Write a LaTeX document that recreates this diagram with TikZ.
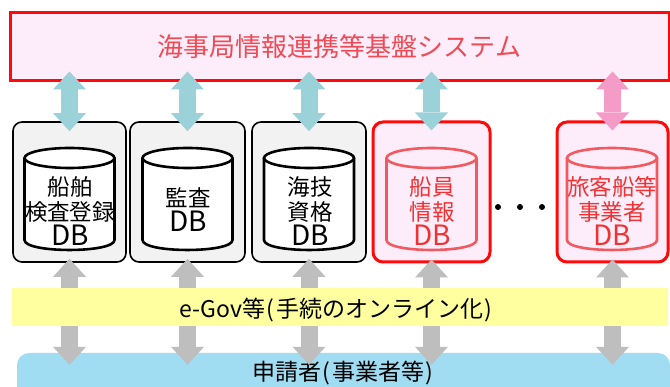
\documentclass[tikz,border=0pt]{standalone}
\usepackage{fontspec}
\setmainfont{Noto Sans CJK JP}
\usetikzlibrary{arrows.meta,calc}
\definecolor{pinkfill}{RGB}{253,236,250}
\definecolor{boxgray}{RGB}{242,242,242}
\definecolor{boxred}{RGB}{255,10,10}
\definecolor{titlered}{RGB}{238,75,85}
\definecolor{cylred}{RGB}{242,90,95}
\definecolor{txtred}{RGB}{240,50,50}
\definecolor{tealarr}{RGB}{155,210,218}
\definecolor{pinkarr}{RGB}{245,155,200}
\definecolor{grayarr}{RGB}{190,190,190}
\definecolor{bandyellow}{RGB}{255,255,160}
\definecolor{bandblue}{RGB}{160,220,242}
\newcommand\dbcyl[3]{%
  \draw[line width=2.6pt, draw=#2, fill=#3] (#1-45,158) -- (#1-45,240)
    .. controls (#1-45,253.3) and (#1+45,253.3) .. (#1+45,240) -- (#1+45,158);
  \draw[line width=2.6pt, draw=#2, fill=#3] (#1,158) ellipse[x radius=45, y radius=10];
}
\newcommand\lpar{\kern1.5pt(\kern1.5pt}
\newcommand\rpar{\kern1.5pt)}
\begin{document}
\begin{tikzpicture}[x=1pt,y=-1pt,
  topbox/.style={draw=boxred, line width=3pt, fill=pinkfill, inner sep=0pt,
    text=titlered, font=\fontsize{26}{30}\selectfont},
  dbbox/.style={draw=black, line width=1.6pt, fill=boxgray, rounded corners=9pt,
    minimum height=140pt, inner sep=0pt},
  redbox/.style={draw=boxred, line width=3pt, fill=pinkfill, rounded corners=10pt,
    minimum height=140pt, inner sep=0pt},
  dbtext/.style={align=center, inner sep=0pt, font=\fontsize{22.5}{25}\selectfont},
  tiparr/.style={line width=17pt, draw=#1,
    arrows={Triangle[width=33pt,length=18pt,line width=0pt]-Triangle[width=33pt,length=18pt,line width=0pt]}},
  band/.style={inner sep=0pt, font=\fontsize{23}{26}\selectfont}
]
\useasboundingbox (0,0) rectangle (670,387);
\clip (0,0) rectangle (670,387);
\fill[white] (0,0) rectangle (670,387);

% top system box
\node[topbox, minimum width=659pt, minimum height=68pt] (top) at (339.5,47) {海事局情報連携等基盤システム};

% applicant band
\node[band, fill=bandblue, rounded corners=12pt, minimum width=653pt, minimum height=50pt,
  text height=0pt, text depth=0pt] (apl) at (343.5,378) {};
\node[band] (apltext) at (343,373) {申請者\lpar 事業者等\rpar};

% DB boxes
\node[dbbox, minimum width=113pt] (b1) at (69.5,192) {};
\node[dbbox, minimum width=115pt] (b2) at (187.5,192) {};
\node[dbbox, minimum width=114pt] (b3) at (309,192) {};
\node[redbox, minimum width=117pt] (b4) at (431.5,192) {};
\node[redbox, minimum width=111pt] (b5) at (612.5,192) {};

% cylinders
\dbcyl{69.5}{black}{white}
\dbcyl{187.5}{black}{white}
\dbcyl{309}{black}{white}
\dbcyl{431.5}{cylred}{pinkfill}
\dbcyl{612}{cylred}{pinkfill}

% DB labels
\node[dbtext] (t1) at (70,211) {船舶\\検査登録\\{\fontsize{28}{25}\selectfont DB}};
\node[dbtext] (t2) at (188,210) {監査\\{\fontsize{28}{25}\selectfont DB}};
\node[dbtext] (t3) at (310,211) {海技\\資格\\{\fontsize{28}{25}\selectfont DB}};
\node[dbtext, text=txtred] (t4) at (432,211) {船員\\情報\\{\fontsize{28}{25}\selectfont DB}};
\node[dbtext, text=txtred] (t5) at (612,211) {旅客船等\\事業者\\{\fontsize{28}{25}\selectfont DB}};

% dots
\fill (498,207) circle[radius=3pt];
\fill (520,207) circle[radius=3pt];
\fill (542,207) circle[radius=3pt];

% top arrows
\draw[tiparr=tealarr] ($(top.south -| b1.north)+(0,-11)$) -- ($(b1.north)+(0,10)$);
\draw[tiparr=tealarr] ($(top.south -| b2.north)+(0,-11)$) -- ($(b2.north)+(0,10)$);
\draw[tiparr=tealarr] ($(top.south -| b3.north)+(0,-11)$) -- ($(b3.north)+(0,10)$);
\draw[tiparr=tealarr] ($(top.south -| b4.north)+(0,-11)$) -- ($(b4.north)+(0,10)$);
\draw[tiparr=pinkarr] ($(top.south -| b5.north)+(0,-11)$) -- ($(b5.north)+(0,10)$);

% bottom arrows
\draw[tiparr=grayarr] ($(b1.south)+(0,-4)$) -- ($(apl.north -| b1.south)+(0,12)$);
\draw[tiparr=grayarr] ($(b2.south)+(0,-4)$) -- ($(apl.north -| b2.south)+(0,12)$);
\draw[tiparr=grayarr] ($(b3.south)+(0,-4)$) -- ($(apl.north -| b3.south)+(0,12)$);
\draw[tiparr=grayarr] ($(b4.south)+(0,-4)$) -- ($(apl.north -| b4.south)+(0,12)$);
\draw[tiparr=grayarr] ($(b5.south)+(0,-4)$) -- ($(apl.north -| b5.south)+(0,12)$);

% e-Gov band (over the arrow shafts)
\node[band, fill=bandyellow, minimum width=656pt, minimum height=38pt] (egov) at (340,307) {};
\node[band] (egovtext) at (336,310) {e-Gov等\lpar 手続のオンライン化\rpar};
\end{tikzpicture}
\end{document}
